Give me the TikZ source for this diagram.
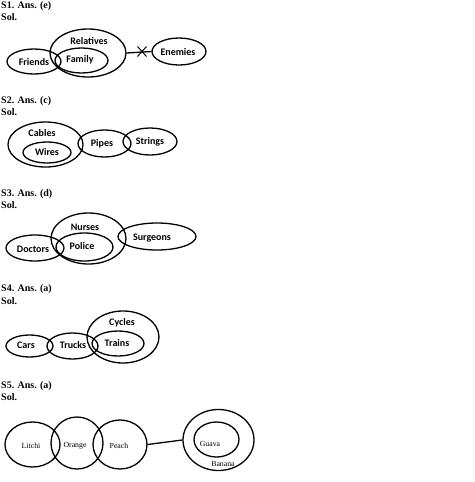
\documentclass[tikz,border=0pt]{standalone}
\usepackage{fontspec}
\setmainfont{Liberation Serif}
\newfontfamily\lblfont{Carlito}
\usetikzlibrary{shapes.geometric,shapes.misc}

\begin{document}
\begin{tikzpicture}[x=1pt, y=-1pt,
    ell/.style={draw, ellipse, inner sep=0pt, line width=1.3pt},
    lbl/.style={font=\lblfont\bfseries\fontsize{10}{11}\selectfont, inner sep=0pt},
    fruit/.style={font=\fontsize{7.8}{9}\selectfont, inner sep=0pt},
    head/.style={font=\bfseries\fontsize{10}{11}\selectfont, anchor=west, inner sep=0pt}]
  \useasboundingbox (0,0) rectangle (474,482);

  % S1
  \node[head] (h1) at (1,6) {S1. Ans. (e)};
  \node[head] (s1) at (1,17) {Sol.};
  \node[ell, minimum width=76pt, minimum height=48pt] (relatives) at (88,53) {};
  \node[ell, minimum width=53pt, minimum height=25pt] (family) at (81.5,60.5) {};
  \node[ell, minimum width=54pt, minimum height=25pt] (friends) at (34,61.5) {};
  \node[ell, minimum width=54pt, minimum height=27pt] (enemies) at (179,51.5) {};
  \node[lbl] (trelatives) at (89,41) {Relatives};
  \node[lbl] (tfamily) at (80,60) {Family};
  \node[lbl] (tfriends) at (34,62) {Friends};
  \node[lbl] (tenemies) at (178,52) {Enemies};
  \draw[line width=1.3pt] (relatives.east) -- (enemies.west);
  \node[cross out, draw, line width=1pt, minimum width=8pt, minimum height=9pt, inner sep=0pt] (nolink) at (142,51.5) {};

  % S2
  \node[head] (h2) at (1,101) {S2. Ans. (c)};
  \node[head] (s2) at (1,112) {Sol.};
  \node[ell, minimum width=75pt, minimum height=45pt] (cables) at (45.5,144.5) {};
  \node[ell, minimum width=48pt, minimum height=21pt] (wires) at (47,152.5) {};
  \node[ell, minimum width=53pt, minimum height=27pt] (pipes) at (104.5,143.5) {};
  \node[ell, minimum width=54pt, minimum height=27pt] (strings) at (150,141.5) {};
  \node[lbl] (tcables) at (42,133) {Cables};
  \node[lbl] (twires) at (47,152) {Wires};
  \node[lbl] (tpipes) at (102,144) {Pipes};
  \node[lbl] (tstrings) at (150,142) {Strings};

  % S3
  \node[head] (h3) at (1,194) {S3. Ans. (d)};
  \node[head] (s3) at (1,205) {Sol.};
  \node[ell, minimum width=75pt, minimum height=51pt] (nurses) at (88.5,238.5) {};
  \node[ell, minimum width=57pt, minimum height=28pt] (police) at (84.5,247) {};
  \node[ell, minimum width=58pt, minimum height=26pt] (doctors) at (35,248) {};
  \node[ell, minimum width=78pt, minimum height=27pt] (surgeons) at (157,236.5) {};
  \node[lbl] (tnurses) at (85,227) {Nurses};
  \node[lbl] (tpolice) at (82,246) {Police};
  \node[lbl] (tdoctors) at (33,249) {Doctors};
  \node[lbl] (tsurgeons) at (152,238) {Surgeons};

  % S4
  \node[head] (h4) at (1,289) {S4. Ans. (a)};
  \node[head] (s4) at (1,301) {Sol.};
  \node[ell, minimum width=72pt, minimum height=52pt] (cycles) at (123,337) {};
  \node[ell, minimum width=52pt, minimum height=25pt] (trains) at (118,343.5) {};
  \node[ell, minimum width=47pt, minimum height=22pt] (cars) at (29.5,346) {};
  \node[ell, minimum width=51pt, minimum height=26pt] (trucks) at (72.5,346) {};
  \node[lbl] (tcycles) at (122,323) {Cycles};
  \node[lbl] (ttrains) at (117,343) {Trains};
  \node[lbl] (tcars) at (26,345) {Cars};
  \node[lbl] (ttrucks) at (73,345) {Trucks};

  % S5
  \node[head] (h5) at (1,386) {S5. Ans. (a)};
  \node[head] (s5) at (1,397) {Sol.};
  \node[ell, minimum width=55pt, minimum height=45pt] (litchi) at (32.5,444.5) {};
  \node[ell, minimum width=52pt, minimum height=52pt] (orange) at (77,443) {};
  \node[ell, minimum width=54pt, minimum height=49pt] (peach) at (120,444.5) {};
  \node[ell, minimum width=71pt, minimum height=61pt] (banana) at (218.5,440) {};
  \node[ell, minimum width=45pt, minimum height=35pt] (guava) at (216.5,439.5) {};
  \node[fruit] (tlitchi) at (31,446) {Litchi};
  \node[fruit] (torange) at (75,446) {Orange};
  \node[fruit] (tpeach) at (119,446) {Peach};
  \node[fruit] (tguava) at (210,444) {Guava};
  \node[fruit] (tbanana) at (223,464) {Banana};
  \draw[line width=1.3pt] (peach.east) -- (banana.west);
\end{tikzpicture}
\end{document}
